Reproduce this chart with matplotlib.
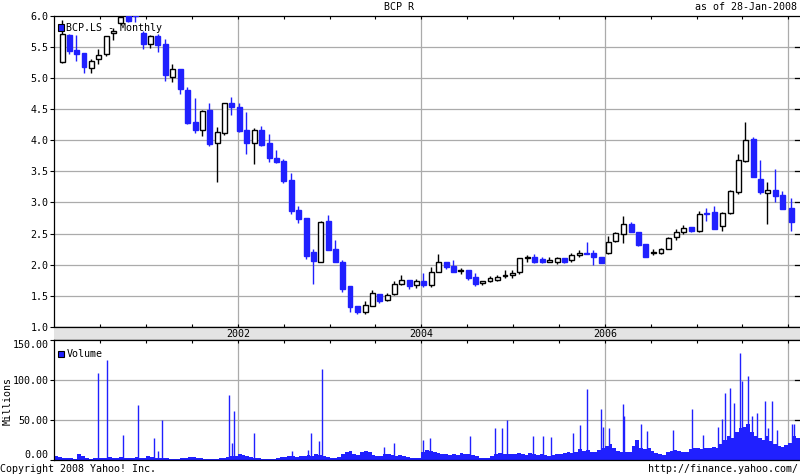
import matplotlib
matplotlib.use("Agg")
import matplotlib.pyplot as plt
from matplotlib.patches import Rectangle
import numpy as np

# ---------------- data ----------------
# candle times (decimal years)
candle_t = [2000.087, 2000.163, 2000.240, 2000.324, 2000.403, 2000.480, 2000.567, 2000.643, 2000.724, 2000.806,
            2000.883, 2000.970, 2001.046, 2001.127, 2001.210, 2001.286, 2001.373, 2001.450, 2001.537, 2001.613,
            2001.689, 2001.777, 2001.853, 2001.929, 2002.016, 2002.093, 2002.180, 2002.256, 2002.343, 2002.420,
            2002.496, 2002.583, 2002.659, 2002.747, 2002.823, 2002.904, 2002.986, 2003.063, 2003.139, 2003.223,
            2003.303, 2003.390, 2003.466, 2003.542, 2003.629, 2003.706, 2003.782, 2003.869, 2003.946, 2004.022,
            2004.109, 2004.185, 2004.273, 2004.349, 2004.429, 2004.512, 2004.589, 2004.665, 2004.749, 2004.828,
            2004.912, 2004.992, 2005.068, 2005.155, 2005.232, 2005.319, 2005.395, 2005.482, 2005.559, 2005.635,
            2005.722, 2005.803, 2005.875, 2005.962, 2006.038, 2006.114, 2006.202, 2006.289, 2006.365, 2006.441,
            2006.529, 2006.613, 2006.692, 2006.779, 2006.856, 2006.943, 2007.030, 2007.106, 2007.194, 2007.281,
            2007.368, 2007.455, 2007.531, 2007.619, 2007.695, 2007.771, 2007.858, 2007.935, 2008.033]

open_ = [5.26, 5.70, 5.45, 5.41, 5.16, 5.30, 5.39, 5.73, 5.88, 6.00,
         6.10, 5.73, 5.55, 5.68, 5.55, 5.02, 5.15, 4.81, 4.30, 4.16,
         4.49, 3.95, 4.11, 4.60, 4.54, 4.17, 3.95, 4.17, 3.96, 3.71,
         3.67, 3.36, 2.88, 2.75, 2.20, 2.05, 2.70, 2.25, 2.05, 1.65,
         1.33, 1.24, 1.34, 1.53, 1.43, 1.53, 1.69, 1.76, 1.68, 1.74,
         1.68, 1.89, 2.05, 1.98, 1.90, 1.92, 1.81, 1.71, 1.74, 1.76,
         1.82, 1.83, 1.88, 2.10, 2.13, 2.09, 2.05, 2.05, 2.11, 2.08,
         2.15, 2.19, 2.19, 2.13, 2.19, 2.38, 2.50, 2.66, 2.52, 2.34,
         2.19, 2.19, 2.26, 2.44, 2.53, 2.60, 2.54, 2.83, 2.84, 2.63,
         2.83, 3.17, 3.67, 4.02, 3.38, 3.15, 3.20, 3.12, 2.91]
high = [5.93, 5.71, 5.70, 5.41, 5.31, 5.47, 5.68, 5.80, 6.02, 6.05,
        6.20, 5.75, 5.70, 5.71, 5.63, 5.23, 5.15, 4.86, 4.68, 4.49,
        4.60, 4.21, 4.60, 4.70, 4.60, 4.46, 4.19, 4.23, 4.10, 3.84,
        3.70, 3.47, 2.94, 2.75, 2.25, 2.70, 2.80, 2.39, 2.08, 1.66,
        1.33, 1.42, 1.59, 1.53, 1.55, 1.73, 1.84, 1.76, 1.77, 1.86,
        1.96, 2.18, 2.05, 2.08, 1.94, 1.92, 1.87, 1.74, 1.82, 1.84,
        1.92, 1.92, 2.11, 2.15, 2.18, 2.13, 2.13, 2.12, 2.11, 2.19,
        2.23, 2.36, 2.24, 2.13, 2.46, 2.52, 2.79, 2.69, 2.53, 2.34,
        2.26, 2.27, 2.45, 2.57, 2.64, 2.60, 2.87, 2.91, 2.94, 2.84,
        3.20, 3.78, 4.30, 4.05, 3.68, 3.33, 3.54, 3.18, 3.07]
low = [5.24, 5.38, 5.28, 5.09, 5.09, 5.23, 5.36, 5.61, 5.86, 5.90,
       5.90, 5.46, 5.49, 5.42, 4.96, 4.93, 4.75, 4.26, 4.11, 4.07,
       3.91, 3.33, 4.09, 4.40, 4.14, 3.78, 3.62, 3.91, 3.65, 3.64,
       3.32, 2.81, 2.67, 2.09, 1.69, 2.04, 2.23, 2.04, 1.56, 1.24,
       1.20, 1.20, 1.33, 1.39, 1.42, 1.51, 1.68, 1.61, 1.63, 1.64,
       1.64, 1.88, 1.93, 1.88, 1.85, 1.76, 1.66, 1.68, 1.72, 1.73,
       1.78, 1.78, 1.85, 2.05, 2.03, 2.03, 2.04, 2.01, 2.03, 2.05,
       2.12, 2.17, 1.99, 2.03, 2.17, 2.37, 2.35, 2.52, 2.30, 2.12,
       2.16, 2.17, 2.25, 2.39, 2.50, 2.52, 2.53, 2.70, 2.57, 2.54,
       2.82, 3.14, 3.65, 3.41, 3.13, 2.65, 3.01, 2.90, 2.54]
close = [5.71, 5.43, 5.38, 5.18, 5.27, 5.37, 5.67, 5.75, 5.98, 5.92,
         6.00, 5.55, 5.68, 5.53, 5.05, 5.15, 4.82, 4.28, 4.17, 4.47,
         3.94, 4.13, 4.60, 4.53, 4.15, 3.95, 4.17, 3.92, 3.72, 3.65,
         3.34, 2.86, 2.74, 2.14, 2.06, 2.69, 2.24, 2.04, 1.61, 1.32,
         1.24, 1.35, 1.55, 1.42, 1.51, 1.69, 1.76, 1.66, 1.74, 1.67,
         1.89, 2.04, 1.96, 1.89, 1.91, 1.78, 1.69, 1.74, 1.78, 1.80,
         1.83, 1.87, 2.10, 2.13, 2.05, 2.05, 2.08, 2.11, 2.05, 2.16,
         2.19, 2.18, 2.12, 2.03, 2.37, 2.51, 2.66, 2.53, 2.32, 2.12,
         2.20, 2.26, 2.43, 2.53, 2.59, 2.54, 2.82, 2.82, 2.57, 2.83,
         3.18, 3.68, 4.00, 3.41, 3.17, 3.20, 3.10, 2.90, 2.69]

# half-monthly typical volume level (millions), 24 per year
vol_2000 = [6, 4, 3, 3, 3, 2, 8, 6, 3, 2, 3, 3, 3, 3, 4, 3, 3, 4, 3, 3, 3, 4, 3, 3]
vol_2001 = [6, 4, 3, 3, 3, 3, 2, 2, 2, 3, 3, 4, 4, 3, 3, 2, 2, 2, 2, 3, 3, 4, 5, 5]
vol_2002 = [8, 7, 5, 4, 3, 3, 2, 2, 2, 2, 3, 4, 4, 5, 5, 4, 5, 6, 7, 6, 8, 7, 5, 4]
vol_2003 = [3, 3, 4, 8, 11, 12, 8, 7, 10, 12, 11, 7, 6, 6, 8, 8, 7, 6, 7, 6, 4, 3, 3, 3]
vol_2004 = [10, 13, 12, 10, 9, 8, 8, 7, 8, 7, 9, 8, 8, 7, 5, 3, 3, 3, 6, 8, 9, 8, 8, 8]
vol_2005 = [8, 9, 8, 7, 9, 8, 7, 8, 7, 6, 7, 8, 8, 9, 10, 9, 11, 14, 12, 13, 10, 11, 13, 16]
vol_2006 = [18, 20, 15, 12, 10, 11, 10, 18, 25, 15, 14, 16, 12, 9, 8, 7, 10, 12, 13, 12, 10, 11, 14, 16]
vol_2007 = [15, 14, 16, 15, 17, 16, 20, 25, 30, 28, 35, 40, 42, 45, 35, 30, 28, 25, 30, 24, 20, 18, 17, 19]
vol_2008 = [22, 30, 28]

# individual tall volume days (decimal year, millions)
spike_t = [2000.480, 2000.578, 2000.752, 2000.916, 2001.090, 2001.134, 2001.177, 2001.907, 2001.940, 2001.962,
           2002.173, 2002.594, 2002.768, 2002.801, 2002.888, 2002.921, 2003.597, 2003.706, 2004.019, 2004.095,
           2004.531, 2004.807, 2004.883, 2004.931, 2005.221, 2005.330, 2005.414, 2005.653, 2005.730, 2005.809,
           2005.962, 2005.977, 2006.049, 2006.198, 2006.209, 2006.391, 2006.456, 2006.747, 2006.954, 2007.074,
           2007.237, 2007.281, 2007.313, 2007.368, 2007.408, 2007.477, 2007.492, 2007.557, 2007.600, 2007.662,
           2007.749, 2007.780, 2007.826, 2007.880, 2008.044, 2008.062]
spike_v = [109, 126, 32, 69, 28, 12, 51, 82, 22, 62,
           34, 12, 13, 34, 24, 114, 17, 22, 25, 28,
           30, 41, 40, 50, 31, 31, 29, 34, 44, 89,
           64, 42, 40, 71, 56, 46, 37, 38, 64, 32,
           42, 52, 84, 91, 72, 134, 99, 106, 55, 59,
           74, 40, 74, 38, 45, 45]

price_ticks = [1.0, 1.5, 2.0, 2.5, 3.0, 3.5, 4.0, 4.5, 5.0, 5.5, 6.0]
vol_ticks = [0, 50, 100, 150]
year_labels = [2002, 2004, 2006]
grid_years = [2002, 2004, 2006, 2008]

# ---------------- style ----------------
BLUE = "#2020FF"
GRID = "#ababab"
BAND = "#e3e3e3"
FONT = "DejaVu Sans Mono"
FS = 7.2
plt.rcParams["font.family"] = FONT
plt.rcParams["font.size"] = FS

W, H = 800, 475
fig = plt.figure(figsize=(8, 4.75), dpi=100)


def rect(x0, x1, ytop, ybot):
    return [x0 / W, 1 - ybot / H, (x1 - x0) / W, (ybot - ytop) / H]


XL, XR = 54.3, 799.5
PX_PER_YEAR = 91.75
tmin = 2000.0
tmax = tmin + (XR - XL) / PX_PER_YEAR

ax_p = fig.add_axes(rect(XL, XR, 15.9, 326.9))
ax_b = fig.add_axes(rect(XL, XR, 326.9, 340.3))
ax_v = fig.add_axes(rect(XL, XR, 340.3, 460.3))

half_ticks = np.arange(2000.5, 2008.01, 0.5)

# ---- price panel ----
ax_p.set_xlim(tmin, tmax)
ax_p.set_ylim(1.0, 6.0)
for y in price_ticks[1:-1]:
    ax_p.axhline(y, color=GRID, lw=0.9, zorder=0)
for yr in grid_years:
    ax_p.axvline(yr, color=GRID, lw=0.9, zorder=0)

t = np.array(candle_t)
o = np.array(open_); h = np.array(high); l = np.array(low); c = np.array(close)
up = c >= o
body_w = 0.052
bot = np.minimum(o, c)
ht = np.maximum(np.abs(c - o), 0.012)

ax_p.vlines(t[up], l[up], h[up], color="black", lw=1.0, zorder=2)
ax_p.vlines(t[~up], l[~up], h[~up], color=BLUE, lw=1.0, zorder=2)
ax_p.bar(t[up], ht[up], body_w, bottom=bot[up], facecolor="white",
         edgecolor="black", linewidth=1.0, zorder=3)
ax_p.bar(t[~up], ht[~up], body_w, bottom=bot[~up], facecolor=BLUE,
         edgecolor=BLUE, linewidth=1.0, zorder=3)

ax_p.set_yticks(price_ticks)
ax_p.set_yticklabels([f"{v:.1f}" for v in price_ticks])
ax_p.set_xticks(half_ticks)
ax_p.tick_params(axis="x", which="both", direction="in", length=2.5, width=0.8,
                 top=True, bottom=True, labelbottom=False)
ax_p.tick_params(axis="y", direction="out", length=3, width=0.8, pad=1,
                 left=True, right=False)
for s in ["left", "top", "bottom"]:
    ax_p.spines[s].set_color("black")
    ax_p.spines[s].set_linewidth(0.9)
ax_p.spines["right"].set_visible(False)
for y in price_ticks[1:-1]:
    ax_p.plot([tmax - 0.05, tmax], [y, y], color="black", lw=0.9, zorder=4,
              clip_on=False)

# legend (price)
fig.patches.append(Rectangle((58 / W, 1 - 30.5 / H), 6 / W, 6 / H,
                             transform=fig.transFigure, facecolor=BLUE,
                             edgecolor="black", linewidth=0.8, zorder=6))
fig.text(66.5 / W, 1 - 28 / H, "BCP.LS - Monthly", ha="left", va="center",
         fontsize=FS, zorder=6)

# ---- date band ----
ax_b.set_xlim(tmin, tmax)
ax_b.set_ylim(0, 1)
ax_b.set_facecolor(BAND)
ax_b.set_xticks([]); ax_b.set_yticks([])
for s in ["left", "right"]:
    ax_b.spines[s].set_visible(False)
for s in ["top", "bottom"]:
    ax_b.spines[s].set_linewidth(0.9)
for yr in year_labels:
    ax_b.text(yr, 0.45, str(yr), ha="center", va="center", fontsize=FS)

# ---- volume panel ----
ax_v.set_xlim(tmin, tmax)
ax_v.set_ylim(0, 150)
for y in vol_ticks[1:-1]:
    ax_v.axhline(y, color=GRID, lw=0.9, zorder=0)
for yr in grid_years:
    ax_v.axvline(yr, color=GRID, lw=0.9, zorder=0)

vol_years = [(2000, vol_2000), (2001, vol_2001), (2002, vol_2002), (2003, vol_2003),
             (2004, vol_2004), (2005, vol_2005), (2006, vol_2006), (2007, vol_2007),
             (2008, vol_2008)]
for yr, vals in vol_years:
    pos = yr + (np.arange(len(vals)) + 0.5) / 24.0
    ax_v.bar(pos, vals, 1 / 24.0, color=BLUE, linewidth=0, zorder=2)
ax_v.vlines(spike_t, 0, spike_v, color=BLUE, lw=1.0, zorder=2)

ax_v.set_yticks(vol_ticks)
ax_v.set_yticklabels([f"{v:.2f}" for v in vol_ticks])
labs = ax_v.get_yticklabels()
labs[0].set_va("bottom")
labs[-1].set_va("top")
ax_v.set_xticks(half_ticks)
ax_v.tick_params(axis="x", which="both", direction="in", length=2.5, width=0.8,
                 top=True, bottom=False, labelbottom=False)
ax_v.tick_params(axis="y", direction="out", length=3, width=0.8, pad=1)
ax_v.spines["right"].set_visible(False)
for s in ["left", "top", "bottom"]:
    ax_v.spines[s].set_linewidth(0.9)
for y in vol_ticks[1:-1]:
    ax_v.plot([tmax - 0.05, tmax], [y, y], color="black", lw=0.9, zorder=4,
              clip_on=False)

fig.patches.append(Rectangle((58 / W, 1 - 356.5 / H), 6 / W, 6 / H,
                             transform=fig.transFigure, facecolor=BLUE,
                             edgecolor="black", linewidth=0.8, zorder=6))
fig.text(66.5 / W, 1 - 354 / H, "Volume", ha="left", va="center",
         fontsize=FS, zorder=6)

# ---- figure texts ----
fig.text(399 / W, 1 - 7.5 / H, "BCP R", ha="center", va="center", fontsize=FS)
fig.text(797 / W, 1 - 7.5 / H, "as of 28-Jan-2008", ha="right", va="center", fontsize=FS)
fig.text(8 / W, 1 - 401 / H, "Millions", rotation=90, ha="center", va="center", fontsize=FS)
fig.text(0 / W, 1 - 468.5 / H, "Copyright 2008 Yahoo! Inc.", ha="left", va="center", fontsize=FS)
fig.text(798 / W, 1 - 468.5 / H, "http://finance.yahoo.com/", ha="right", va="center", fontsize=FS)

fig.savefig("out.png", dpi=100)
